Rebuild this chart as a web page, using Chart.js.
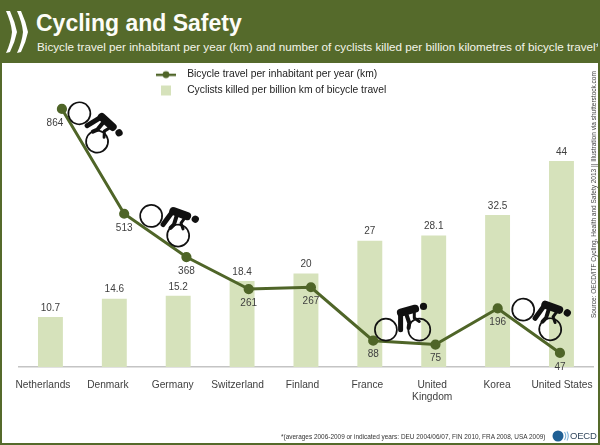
<!DOCTYPE html>
<html><head><meta charset="utf-8">
<script src="https://cdn.jsdelivr.net/npm/chart.js@4"></script>
<style>
html,body{margin:0;padding:0;background:#fff;overflow:hidden}
#wrap{position:relative;width:600px;height:445px;font-family:"Liberation Sans",Arial,sans-serif;overflow:hidden}
#wrap canvas{position:absolute;left:0;top:0}
#head{position:absolute;left:0;top:0;width:600px;height:63px;background:#556a2b;color:#fff}
#title{position:absolute;left:36px;top:8px;font-size:23px;font-weight:bold;line-height:30px;white-space:nowrap;color:#fdfdf8}
#sub{position:absolute;left:37px;top:40px;font-size:11.7px;line-height:14px;white-space:nowrap;color:#f4f5ea}
#frame{position:absolute;left:0;top:0;width:600px;height:445px;box-sizing:border-box;border:solid #556a2b;border-width:0 2.5px 2px 2.5px;pointer-events:none}
#src{position:absolute;left:594px;top:318px;font-size:6.5px;line-height:8px;color:#444;white-space:nowrap;transform-origin:0 0;transform:rotate(-90deg) translateY(-4px)}
#foot{position:absolute;left:281px;top:432px;font-size:6.45px;line-height:9px;color:#333;white-space:nowrap}
#oecd{position:absolute;left:570px;top:430px;font-size:9.5px;line-height:12px;letter-spacing:-0.2px;color:#34495e;white-space:nowrap}
#logos{position:absolute;left:0;top:0}
</style></head><body>
<div id="wrap">
<canvas id="c" width="600" height="445"></canvas>
<div id="head">
<svg id="logos" width="36" height="63"><path d="M6 11 L10 11 Q15 22 17 32 Q15 42 10 52 L6 53 Q11 42 12 32 Q11 22 6 11Z" fill="#fff"/><path d="M17 11 L21 11 Q26 22 28 32 Q26 42 21 52 L17 53 Q22 42 23 32 Q22 22 17 11Z" fill="#fff"/></svg>
<div id="title">Cycling and Safety</div>
<div id="sub">Bicycle travel per inhabitant per year (km) and number of cyclists killed per billion kilometres of bicycle travel*</div>
</div>
<div id="src">Source: OECD/ITF Cycling, Health and Safety 2013 || Illustration via shutterstock.com</div>
<div id="foot">*(averages 2006-2009 or indicated years: DEU 2004/06/07, FIN 2010, FRA 2008, USA 2009)</div>
<svg style="position:absolute;left:552px;top:429px" width="18" height="14"><circle cx="6" cy="7" r="5.5" fill="#1f5f94"/><path d="M12.5 3 Q15 7 12.5 11 M15 2.5 Q17.5 7 15 11.500" fill="none" stroke="#7fb2d8" stroke-width="1.100"/></svg>
<div id="oecd">OECD</div>
<div id="frame"></div>
</div>
<script>
const categories = ['Netherlands','Denmark','Germany','Switzerland','Finland','France','United Kingdom','Korea','United States'];
const tickNames = ['Netherlands','Denmark','Germany','Switzerland','Finland','France',['United','Kingdom'],'Korea','United States'];
const killed = [10.7,14.6,15.2,18.4,20,27,28.1,32.5,44];
const killedText = ['10.7','14.6','15.2','18.4','20','27','28.1','32.5','44'];
const travel = [864,513,368,261,267,88,75,196,47];
const lineName = 'Bicycle travel per inhabitant per year (km)';
const barName = 'Cyclists killed per billion km of bicycle travel';

const OLIVE = '#4f6528', BAR = '#d6e2bb', TXT = '#404040';
const FONT = '"Liberation Sans",Arial,sans-serif';

function swatch(draw){const c=document.createElement('canvas');c.width=20;c.height=12;draw(c.getContext('2d'));return c;}
const lineSwatch = swatch(g=>{g.fillStyle=OLIVE;g.fillRect(0,5,20,2.4);g.beginPath();g.arc(10,6,3.4,0,7);g.fill();});
const barSwatch = swatch(g=>{g.fillStyle=BAR;g.fillRect(5,1,10,10);});

// Cyclist pictograms: anchor point index, offset from that point, tilt
const riders = [[0,26.3,18.5,58],[1,40.5,12,36],[5,29.4,-11,0],[7,39,11,36]];
function drawRider(g,cx,cy,deg){
  g.save();g.translate(cx,cy);g.rotate(deg*Math.PI/180);
  g.strokeStyle='#111';g.fillStyle='#111';g.lineCap='round';g.lineJoin='round';
  g.lineWidth=1.7;
  [-16.7,16.7].forEach(x=>{g.beginPath();g.arc(x,0,11,0,7);g.stroke();});
  g.beginPath();g.arc(20.9,-23.3,3.6,0,7);g.fill();
  g.lineWidth=8;g.beginPath();g.moveTo(-1.7,-17);g.lineTo(12.5,-21);g.stroke();
  g.lineWidth=3;g.beginPath();g.moveTo(11.7,-20);g.lineTo(11.7,-11.7);g.lineTo(16.7,-8.3);g.stroke();
  g.lineWidth=5;g.beginPath();g.moveTo(-2,-15);g.lineTo(-2,0);g.stroke();
  g.lineWidth=4;g.beginPath();g.moveTo(3.3,-16.7);g.lineTo(6.7,-6.7);g.lineTo(6,-1.7);g.stroke();
  g.restore();
}

const overlay = {
  id:'overlay',
  afterLayout(chart){
    const l=chart.legend;
    if(l){l.left=144.5;l.right=560;l.top=64;l.bottom=200;}
  },
  afterDatasetsDraw(chart){
    const g=chart.ctx;
    const pts=chart.getDatasetMeta(0).data, bars=chart.getDatasetMeta(1).data;
    riders.forEach(r=>drawRider(g,pts[r[0]].x+r[1],pts[r[0]].y+r[2],r[3]));
    g.save();g.font='10px '+FONT;g.fillStyle=TXT;g.textAlign='center';g.textBaseline='middle';
    bars.forEach((b,i)=>g.fillText(killedText[i],b.x,b.y-9));
    pts.forEach((p,i)=>g.fillText(String(travel[i]),p.x+(i===0?-7:0),p.y+14));
    g.restore();
  }
};

new Chart(document.getElementById('c'),{
  data:{labels:categories,datasets:[
    {type:'line',label:lineName,data:travel.map((v,i)=>({x:i,y:v})),xAxisID:'xLine',yAxisID:'yLine',
     borderColor:OLIVE,backgroundColor:OLIVE,borderWidth:3,pointRadius:3.6,pointHoverRadius:3.6,tension:0,order:0,
     pointStyle:'circle'},
    {type:'bar',label:barName,data:killed,xAxisID:'x',yAxisID:'y',backgroundColor:BAR,grouped:false,categoryPercentage:1,barPercentage:0.39,order:1}
  ]},
  options:{
    responsive:false,animation:false,devicePixelRatio:1,
    layout:{padding:{left:18.5,right:5.5,top:70,bottom:0}},
    plugins:{
      tooltip:{enabled:false},
      legend:{position:'chartArea',align:'start',
        labels:{font:{size:10.3,family:FONT},color:'#222',boxWidth:32,boxHeight:12,pointStyleWidth:32,padding:5.5,
          generateLabels(){return [
            {text:lineName,pointStyle:lineSwatch,datasetIndex:0,fontColor:'#222',lineWidth:0},
            {text:barName,pointStyle:barSwatch,datasetIndex:1,fontColor:'#222',lineWidth:0}];},
          usePointStyle:true}}
    },
    scales:{
      x:{type:'category',display:false,offset:true},
      xLine:{type:'linear',display:false,min:(18.5-62)/62.375,max:(594.5-62)/62.375},
      xTicks:{type:'linear',position:'bottom',min:(18.5-43)/65,max:(594.5-43)/65,
        afterFit(s){s.height=78;s.paddingLeft=0;s.paddingRight=0;},
        grid:{display:false,drawTicks:false},
        border:{display:true,color:'#c4c4c4',width:1.5},
        ticks:{stepSize:1,autoSkip:false,maxRotation:0,includeBounds:false,padding:12,
          font:{size:10.2,family:FONT},color:TXT,
          callback(v){return tickNames[v]===undefined?'':tickNames[v];}}},
      y:{display:false,min:0,max:297/4.68},
      yLine:{display:false,min:0,max:297/0.2987}
    }
  },
  plugins:[overlay]
});
</script>
</body></html>
